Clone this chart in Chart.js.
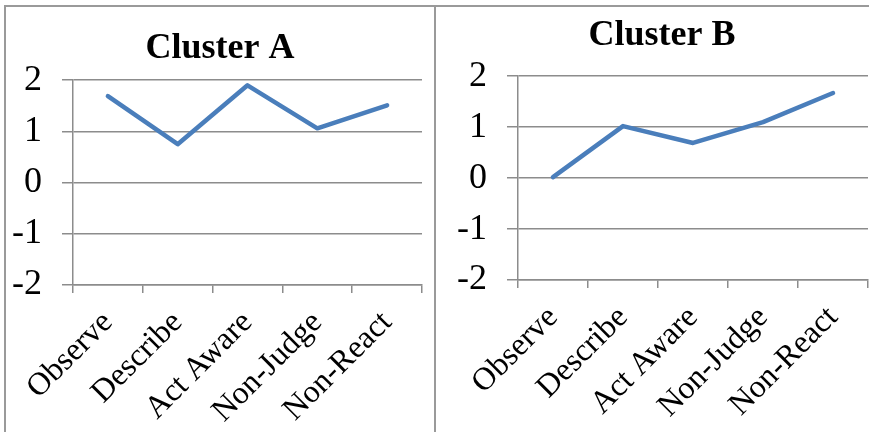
<!DOCTYPE html>
<html>
<head>
<meta charset="utf-8">
<script src="https://cdn.jsdelivr.net/npm/chart.js@4"></script>
<style>
  html, body { margin: 0; padding: 0; overflow: hidden; background: #fff; }
  body { width: 869px; height: 432px; position: relative; }
  #panelA { position: absolute; left: 4px; top: 5px; width: 428px; height: 440px;
            border: 2px solid #9a9a9a; border-bottom: none; }
  #panelB { position: absolute; left: 436px; top: 5px; width: 460px; height: 440px;
            border-top: 2px solid #9a9a9a; }
  canvas { position: absolute; left: 0; top: 0; }
</style>
</head>
<body>
<div id="panelA"><canvas id="chartA" width="428" height="425"></canvas></div>
<div id="panelB"><canvas id="chartB" width="452" height="425"></canvas></div>
<script>
// data

const categories = ['Observe', 'Describe', 'Act Aware', 'Non-Judge', 'Non-React'];
const clusterA = [1.69, 0.75, 1.90, 1.06, 1.51];
const clusterB = [0.02, 1.02, 0.69, 1.10, 1.67];
const yTicks = [-2, -1, 0, 1, 2];

const serif = "'Times New Roman', 'Liberation Serif', serif";
const gridGray = '#8c8c8c';

function makeChart(id, title, values, box) {
  const ctx = document.getElementById(id);
  return new Chart(ctx, {
    type: 'line',
    data: {
      labels: categories,
      datasets: [{
        label: title,
        data: values,
        borderColor: '#4a7ebb',
        borderWidth: 4.5,
        borderCapStyle: 'round',
        borderJoinStyle: 'round',
        pointRadius: 0,
        tension: 0
      }]
    },
    options: {
      responsive: false,
      animation: false,
      devicePixelRatio: 1,
      layout: { padding: 0 },
      plugins: {
        legend: { display: false },
        tooltip: { enabled: false },
        title: {
          display: true,
          text: title,
          color: '#000',
          font: { family: serif, size: 36, weight: 'bold' },
          padding: { top: box.titleTop, bottom: box.titleBottom }
        }
      },
      scales: {
        x: {
          offset: true,
          grid: { offset: true, drawOnChartArea: false, drawTicks: true, tickLength: 8, color: gridGray, lineWidth: 1.5 },
          border: { display: true, color: gridGray, width: 1.5 },
          ticks: {
            color: '#000',
            font: { family: serif, size: 32 },
            minRotation: 45,
            maxRotation: 45,
            autoSkip: false,
            padding: 11
          },
          afterFit: s => { s.height = box.xHeight; }
        },
        y: {
          min: yTicks[0],
          max: yTicks[yTicks.length - 1],
          afterBuildTicks: s => { s.ticks = yTicks.map(v => ({ value: v })); },
          grid: { color: gridGray, lineWidth: 1.5, tickLength: 11 },
          border: { display: true, color: gridGray, width: 1.5 },
          ticks: {
            color: '#000',
            font: { family: serif, size: 36 },
            padding: 20
          },
          afterFit: s => { s.width = box.yWidth; }
        },
        // empty right-hand gap, keeps the title centred on the whole panel
        spacer: {
          position: 'right',
          grid: { display: false },
          border: { display: false },
          ticks: { display: false },
          afterFit: s => { s.width = box.rightGap; }
        }
      }
    }
  });
}

makeChart('chartA', 'Cluster A', clusterA,
  { titleTop: 20, titleBottom: 10, xHeight: 147, yWidth: 67, rightGap: 12 });
makeChart('chartB', 'Cluster B', clusterB,
  { titleTop: 7, titleBottom: 19, xHeight: 152, yWidth: 82, rightGap: 20 });
</script>
</body>
</html>
